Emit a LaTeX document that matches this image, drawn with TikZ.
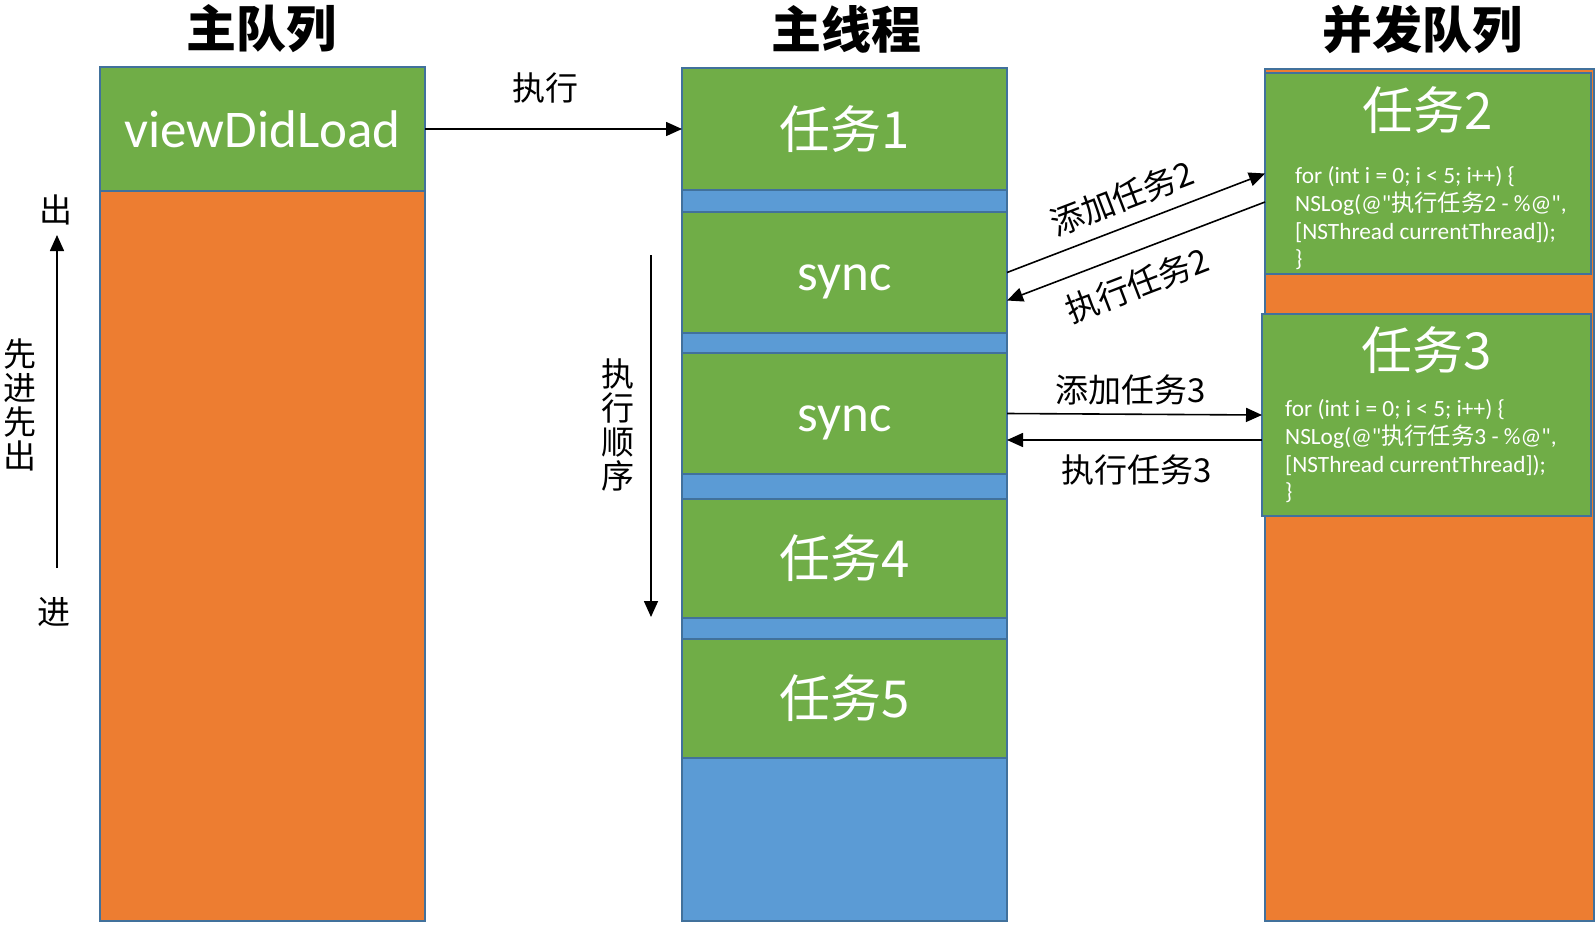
\documentclass[tikz,border=0pt]{standalone}
\usepackage{fontspec}
\setmainfont{Carlito}
\newfontfamily\codefont{Carlito}[Ligatures=TeXOff]
\newfontfamily\cjk{Noto Sans CJK SC}
\usetikzlibrary{arrows.meta}
\definecolor{okgreen}{HTML}{70AD47}
\definecolor{okorange}{HTML}{ED7D31}
\definecolor{okblue}{HTML}{5B9BD5}
\definecolor{okborder}{HTML}{41719C}
\tikzset{
  colbox/.style={draw=okborder, line width=2pt, inner sep=0pt, outer sep=0pt, anchor=north west},
  gbox/.style={colbox, fill=okgreen, text=white, font=\fontsize{53}{60}\selectfont},
  wtext/.style={text=white, font=\fontsize{53}{60}\selectfont, inner sep=0pt},
  cjkbig/.style={font=\cjk\fontsize{51}{60}\selectfont, text=white, inner sep=0pt},
  titletext/.style={font=\cjk\bfseries\fontsize{50}{60}\selectfont, inner sep=0pt},
  lbl/.style={font=\cjk\fontsize{33}{34}\selectfont, align=center, inner sep=0pt},
  codetext/.style={text=white, font=\codefont\fontsize{23.3}{27.9}\selectfont, align=left, anchor=north west, inner sep=0pt},
  arr/.style={-{Triangle[length=16pt,width=14pt]}, line width=1.6pt}
}
\begin{document}
\begin{tikzpicture}[x=1pt,y=-1pt]
\useasboundingbox (0,0) rectangle (1596,924);

% titles
\node[titletext] (tq) at (261,29) {主队列};
\node[titletext] (tm) at (846,29) {主线程};
\node[titletext] (tc) at (1422,30) {并发队列};

% main queue column
\node[colbox, fill=okorange, minimum width=325pt, minimum height=854pt] (mq) at (100,67) {};
\node[gbox, minimum width=325pt, minimum height=124pt] (vdl) at (100,67) {viewDidLoad};

% main thread column
\node[colbox, fill=okblue, minimum width=325pt, minimum height=853pt] (mt) at (682,68) {};
\node[gbox, minimum width=325pt, minimum height=122pt] (t1) at (682,68) {};
\node[cjkbig] (t1t) at (t1.center) {任务1};
\node[gbox, minimum width=325pt, minimum height=121pt] (s1) at (682,212) {};
\node[wtext, anchor=base] (s1t) at ([yshift=-18pt]s1.center) {sync};
\node[gbox, minimum width=325pt, minimum height=121pt] (s2) at (682,353) {};
\node[wtext, anchor=base] (s2t) at ([yshift=-18pt]s2.center) {sync};
\node[gbox, minimum width=325pt, minimum height=119pt] (t4) at (682,499) {};
\node[cjkbig] (t4t) at (t4.center) {任务4};
\node[gbox, minimum width=325pt, minimum height=119pt] (t5) at (682,639) {};
\node[cjkbig] (t5t) at (t5.center) {任务5};

% concurrent queue column
\node[colbox, fill=okorange, minimum width=329pt, minimum height=852pt] (cq) at (1265,69) {};
\node[gbox, minimum width=326pt, minimum height=201pt] (t2) at (1265,73) {};
\node[cjkbig] (t2t) at ([yshift=-37pt]t2.north) {任务2};
\node[codetext] (c2) at (1295,166) {for (int i = 0; i < 5; i++) \{\\NSLog(@"{\cjk 执行任务}2 - \%@",\\{[}NSThread currentThread]);\\\}};
\node[gbox, minimum width=329pt, minimum height=202pt] (t3) at (1262,314) {};
\node[cjkbig] (t3t) at ([yshift=-36pt]t3.north) {任务3};
\node[codetext] (c3) at (1285,399) {for (int i = 0; i < 5; i++) \{\\NSLog(@"{\cjk 执行任务}3 - \%@",\\{[}NSThread currentThread]);\\\}};

% connectors
\draw[arr] (vdl.east) -- (t1.west);
\node[lbl] (lx) at (545,88) {执行};

\draw[arr] (s1.east) -- (t2.west);
\draw[arr] ([yshift=-28.5pt]t2.west) -- ([yshift=-28pt]s1.east);
\node[lbl, rotate=21] (la2) at (1122,198) {添加任务2};
\node[lbl, rotate=21] (le2) at (1137,285) {执行任务2};

\draw[arr] (s2.east) -- (t3.west);
\draw[arr] ([yshift=-25pt]t3.west) -- ([yshift=-26.5pt]s2.east);
\node[lbl] (la3) at (1131,390) {添加任务3};
\node[lbl] (le3) at (1137,470) {执行任务3};

% left side: FIFO
\coordinate (inpt) at (57,568);
\coordinate (outpt) at (57,235);
\draw[arr] (inpt) -- (outpt);
\node[lbl] (lout) at (56,210) {出};
\node[lbl] (lin) at (54,612) {进};
\node[lbl] (fifo) at (20,405) {先\\进\\先\\出};

% execution order
\coordinate (ordtop) at (651,255);
\coordinate (ordbot) at (651,617);
\draw[arr] (ordtop) -- (ordbot);
\node[lbl] (ord) at (618,425) {执\\行\\顺\\序};
\end{tikzpicture}
\end{document}
